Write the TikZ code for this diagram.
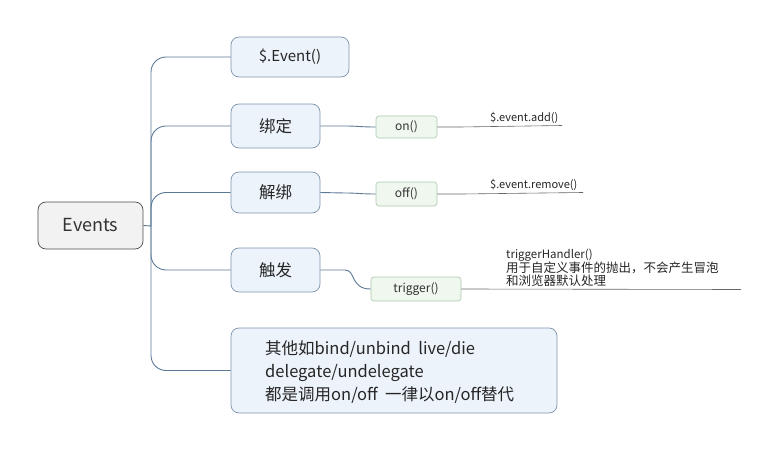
\documentclass[tikz,border=0pt]{standalone}
\usepackage{fontspec}
\setmainfont{Noto Sans CJK SC}
\begin{document}
\begin{tikzpicture}[x=1pt,y=-1pt,
  conn/.style={draw=linec, line width=0.9pt},
  rootbox/.style={draw=black!70, fill=black!5, rounded corners=8pt, line width=0.7pt, font=\fontsize{18}{20}\selectfont, text=black!80},
  mainbox/.style={draw=boxb, fill=boxf, rounded corners=8pt, line width=0.7pt, text=black!85},
  subbox/.style={draw=greenb, fill=greenf, rounded corners=3pt, line width=0.6pt, font=\fontsize{12}{14}\selectfont, text=black!80},
  note/.style={font=\fontsize{11}{13}\selectfont, text=black!85, inner sep=0pt},
  uline/.style={draw=black!60, line width=0.6pt}]
\definecolor{linec}{HTML}{5B7896}
\definecolor{boxb}{HTML}{7E93AC}
\definecolor{boxf}{HTML}{EDF3FB}
\definecolor{greenb}{HTML}{A9C9AC}
\definecolor{greenf}{HTML}{EFF7EF}
\useasboundingbox (0,0) rectangle (780,452);

\node[rootbox, minimum width=105pt, minimum height=47pt] (ev) at (90.5,225.5) {Events};
\node[mainbox, minimum width=118pt, minimum height=40pt, font=\fontsize{15}{17}\selectfont] (b1) at (290,57) {\$.Event()};
\node[mainbox, minimum width=89pt, minimum height=44pt, font=\fontsize{16.5}{18}\selectfont] (b2) at (275.5,126) {绑定};
\node[mainbox, minimum width=89pt, minimum height=41pt, font=\fontsize{16.5}{18}\selectfont] (b3) at (275.5,192.5) {解绑};
\node[mainbox, minimum width=89pt, minimum height=44pt, font=\fontsize{16.5}{18}\selectfont] (b4) at (275.5,270) {触发};
\node[mainbox, minimum width=326pt, minimum height=85pt] (b5) at (394,370.5) {};
\node[anchor=west, align=left, inner sep=0pt, font=\fontsize{16.5}{23}\selectfont, text=black!85] (b5t) at (265,372)
  {其他如bind/unbind\ \ live/die\\delegate/undelegate\\都是调用on/off\ \ 一律以on/off替代};

\node[subbox, minimum width=61pt, minimum height=22pt] (s1) at (406.5,127) {on()};
\node[subbox, minimum width=61pt, minimum height=24pt] (s2) at (406.5,194) {off()};
\node[subbox, minimum width=90pt, minimum height=24pt] (s3) at (416,289) {trigger()};

\coordinate (t) at (151,226);
\draw[conn] (ev.east) -- (t);
\foreach \b in {b1,b2,b3,b4,b5}{
  \draw[conn, rounded corners=15pt] (t) |- (\b.west);
}
\draw[conn] (b2.east) -- (345,126) .. controls (358,126) and (360,127) .. (s1.west);
\draw[conn] (b3.east) -- (345,193) .. controls (358,193) and (360,194) .. (s2.west);
\draw[conn] (b4.east) -- (345,270) .. controls (356,270) and (350,289) .. (s3.west);

\coordinate (e1) at (562,125.5);
\coordinate (e2) at (583,192.5);
\coordinate (e3) at (741,289.5);
\draw[uline] (s1.east) -- (460,127) -- (e1);
\draw[uline] (s2.east) -- (462,194) -- (e2);
\draw[uline] (s3.east) -- (e3);

\node[note, anchor=south west] (n1) at (490,123.5) {\$.event.add()};
\node[note, anchor=south west] (n2) at (490,190.5) {\$.event.remove()};
\node[note, anchor=south west, align=left] (n3) at (506,287)
  {\fontsize{11.5}{15}\selectfont triggerHandler()\\\fontsize{12.5}{16}\selectfont 用于自定义事件的抛出，不会产生冒泡\\\fontsize{12.5}{16}\selectfont 和浏览器默认处理};
\end{tikzpicture}
\end{document}
